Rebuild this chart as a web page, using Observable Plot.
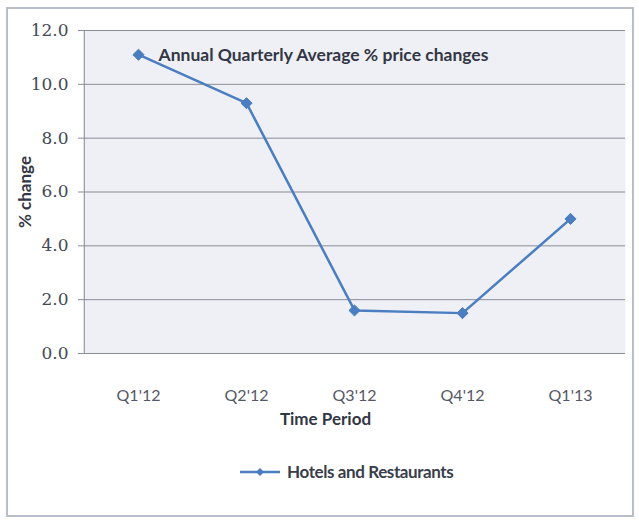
<!DOCTYPE html>
<html>
<head>
<meta charset="utf-8">
<script src="https://cdn.jsdelivr.net/npm/d3@7"></script>
<script src="https://cdn.jsdelivr.net/npm/@observablehq/plot@0.6"></script>
<style>
  html, body { margin: 0; padding: 0; background: #fff; }
  #wrap { position: relative; width: 639px; height: 522px; overflow: hidden; }
  #border { position: absolute; left: 6px; top: 7px; width: 628px; height: 510px; border: 2px solid #b9bccb; box-sizing: border-box; }
  #chart { position: absolute; left: 0; top: 0; }
  #legend { position: absolute; left: 238px; top: 461px; display: flex; align-items: center; font-family: Lato, "Open Sans", sans-serif; font-weight: bold; font-size: 17px; color: #3a3d4a; letter-spacing: -0.4px; }
  #legend svg { margin-right: 5px; }
</style>
</head>
<body>
<div id="wrap">
  <div id="border"></div>
  <div id="chart"></div>
  <div id="legend"></div>
</div>
<script>
const categories = ["Q1'12", "Q2'12", "Q3'12", "Q4'12", "Q1'13"];
const values = [11.1, 9.3, 1.6, 1.5, 5.0];
const yTicks = [0, 2, 4, 6, 8, 10, 12];
const seriesName = "Hotels and Restaurants";
const chartTitle = "Annual Quarterly Average % price changes";
const xLabel = "Time Period";
const yLabel = "% change";

const data = categories.map((c, i) => ({period: c, value: values[i]}));
const lineColor = "#4a7ec0";
const font = "Lato, 'Open Sans', sans-serif";

const plot = Plot.plot({
  width: 639,
  height: 440,
  marginLeft: 83,
  marginRight: 14,
  marginTop: 30,
  marginBottom: 87,
  style: {background: "transparent", overflow: "visible"},
  x: {type: "point", domain: categories, padding: 0.5, label: null},
  y: {domain: [0, 12], label: null},
  marks: [
    Plot.frame({fill: "#eef0f6", stroke: null}),
    Plot.ruleY(yTicks, {stroke: "#8a8c96", strokeWidth: 1}),
    Plot.axisY({
      ticks: yTicks,
      tickFormat: d => d.toFixed(1),
      tickSize: 5,
      tickPadding: 10,
      stroke: "#8a8c96",
      fill: "#454855",
      fontSize: 17,
      fontFamily: "'DejaVu Serif', 'Liberation Serif', serif",
      label: null
    }),
    Plot.axisX({
      tickSize: 0,
      tickPadding: 36,
      fill: "#555865",
      fontSize: 16,
      fontFamily: font,
      label: null
    }),
    Plot.ruleX([0], {x: () => categories[0], dx: -54.2, y1: 0, y2: 12, stroke: "#8a8c96"}),
    Plot.line(data, {x: "period", y: "value", stroke: lineColor, strokeWidth: 2.5}),
    Plot.dot(data, {x: "period", y: "value", symbol: "diamond2", r: 5, fill: lineColor, stroke: lineColor, strokeWidth: 1}),
    Plot.text([chartTitle], {frameAnchor: "top-left", dx: 75, dy: 18, textAnchor: "start", fontWeight: "bold", fontSize: 17.5, fill: "#333644", fontFamily: font, letterSpacing: -0.3}),
    Plot.text([xLabel], {frameAnchor: "bottom", dx: -29, dy: 71, fontWeight: "bold", fontSize: 17, fill: "#333644", fontFamily: font, letterSpacing: -0.3}),
    Plot.text([yLabel], {frameAnchor: "left", textAnchor: "middle", dx: -58, rotate: -90, fontWeight: "bold", fontSize: 17, fill: "#333644", fontFamily: font})
  ]
});
document.getElementById("chart").appendChild(plot);

// legend
const legend = document.getElementById("legend");
const ns = "http://www.w3.org/2000/svg";
const sw = document.createElementNS(ns, "svg");
sw.setAttribute("width", 44); sw.setAttribute("height", 14);
const ln = document.createElementNS(ns, "line");
ln.setAttribute("x1", 2); ln.setAttribute("x2", 42); ln.setAttribute("y1", 7); ln.setAttribute("y2", 7);
ln.setAttribute("stroke", lineColor); ln.setAttribute("stroke-width", 2.5);
const dm = document.createElementNS(ns, "path");
dm.setAttribute("d", "M22,3L26,7L22,11L18,7Z");
dm.setAttribute("fill", lineColor);
sw.appendChild(ln); sw.appendChild(dm);
legend.appendChild(sw);
const lt = document.createElement("span");
lt.textContent = seriesName;
legend.appendChild(lt);
</script>
</body>
</html>
